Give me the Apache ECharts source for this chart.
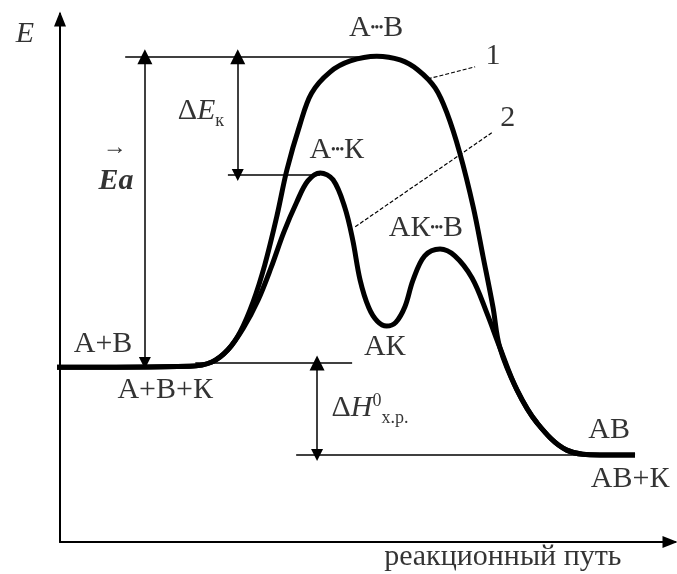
<!DOCTYPE html>
<html lang="ru">
<head>
<meta charset="UTF-8" />
<title>Энергетическая диаграмма реакции</title>
<script src="https://cdn.jsdelivr.net/npm/echarts@6/dist/echarts.min.js"></script>
<style>html,body{margin:0;background:#fff}</style>
</head>
<body>
<div id="main" style="width:677px;height:574px"></div>
<script>
// x - reaction path, y - energy (arbitrary units 0..100)
const pathNoCat = [
  [-0.8, 33.1], [21.1, 33.3], [24.7, 34.1], [27.3, 36.4], [29.3, 39.8],
  [31.4, 45.5], [33.3, 52.5], [35.3, 61.9], [36.9, 70.5], [39.0, 79.0],
  [40.9, 85.0], [43.9, 89.0], [47.2, 91.1], [51.5, 92.0], [55.3, 91.3],
  [58.2, 89.4], [61.0, 86.0], [62.9, 81.3], [65.0, 73.7], [67.2, 63.4],
  [68.8, 54.0], [70.4, 44.5], [71.5, 36.9], [74.3, 28.8], [77.6, 22.5],
  [82.4, 17.4], [87.8, 16.5], [93.5, 16.5]
];
const pathCat = [
  [-0.8, 33.1], [21.1, 33.3], [24.7, 34.1], [27.3, 36.4], [29.8, 40.5],
  [32.2, 45.8], [34.3, 51.9], [36.4, 58.7], [38.5, 64.4], [40.3, 68.4],
  [42.3, 69.9], [44.4, 68.6], [46.3, 63.4], [47.6, 57.2], [48.8, 49.6],
  [50.2, 44.4], [51.6, 41.8], [53.1, 40.9], [54.6, 41.6], [56.1, 44.6],
  [57.4, 49.6], [59.3, 54.2], [61.8, 55.5], [64.2, 54.2], [67.0, 50.0],
  [69.4, 43.4], [71.5, 36.9], [74.3, 28.8], [77.6, 22.5], [82.4, 17.4],
  [87.8, 16.5], [93.5, 16.5]
];

// energy levels
const levelTS = 91.9;     // A...B
const levelCatTS = 69.5;  // A...K
const levelStart = 33.9;  // A+B
const levelEnd = 16.5;    // AB

const guideLines = [
  [[10.6, levelTS], [51.5, levelTS]],
  [[27.3, levelCatTS], [42.3, levelCatTS]],
  [[22.0, levelStart], [47.5, levelStart]],
  [[38.4, levelEnd], [93.5, levelEnd]]
];
const arrows = [
  [[13.8, levelStart], [13.8, levelTS]],
  [[28.9, levelCatTS], [28.9, levelTS]],
  [[41.8, levelEnd], [41.8, levelStart]]
];
const leaders = [
  [[59.8, 87.7], [67.5, 90.0]],
  [[48.0, 59.7], [70.2, 77.5]]
];

const labels = [
  [-5.7, 96.2, '{i|E}'],
  [7.0, 37.5, 'A+B'],
  [17.1, 28.8, 'A+B+К'],
  [89.3, 21.2, 'AB'],
  [92.7, 11.9, 'AB+К'],
  [72.0, -2.8, 'реакционный путь'],
  [51.4, 97.3, 'A{d|•••}B'],
  [45.0, 74.2, 'A{d|•••}К'],
  [59.5, 59.5, 'AК{d|•••}B'],
  [52.8, 36.9, 'AК'],
  [70.4, 92.0, '1'],
  [72.8, 80.3, '2'],
  [22.9, 81.6, 'Δ{i|E}{s|к}'],
  [8.9, 74.6, '{ar|→}'],
  [9.1, 68.4, '{bi|Ea}'],
  [50.4, 25.4, 'Δ{i|H}{sup|0}{s|х.р.}']
];

const serif = '"Liberation Serif", "Times New Roman", serif';

const myChart = echarts.init(document.getElementById('main'));

const axisCommon = {
  type: 'value',
  min: 0,
  max: 100,
  splitLine: { show: false },
  axisTick: { show: false },
  axisLabel: { show: false },
  axisLine: {
    show: true,
    symbol: ['none', 'triangle'],
    symbolSize: [12, 15],
    symbolOffset: [0, -5],
    lineStyle: { color: '#000', width: 2 }
  }
};

const option = {
  animation: false,
  backgroundColor: '#fff',
  grid: { left: 60, right: 2, top: 14, bottom: 32 },
  xAxis: axisCommon,
  yAxis: axisCommon,
  series: [
    {
      name: '1',
      type: 'line',
      data: pathNoCat,
      smooth: 0.35,
      showSymbol: false,
      clip: false,
      lineStyle: { color: '#000', width: 5 }
    },
    {
      name: '2',
      type: 'line',
      data: pathCat,
      smooth: 0.35,
      showSymbol: false,
      clip: false,
      lineStyle: { color: '#000', width: 5 }
    },
    {
      type: 'lines',
      coordinateSystem: 'cartesian2d',
      data: guideLines.map(c => ({ coords: c })),
      symbol: 'none',
      lineStyle: { color: '#000', width: 1.5, opacity: 1 }
    },
    {
      type: 'lines',
      coordinateSystem: 'cartesian2d',
      data: arrows.map(c => ({ coords: c })),
      symbol: ['triangle', 'triangle'],
      symbolSize: [12, 15],
      lineStyle: { color: '#000', width: 1.5, opacity: 1 }
    },
    {
      type: 'lines',
      coordinateSystem: 'cartesian2d',
      data: leaders.map(c => ({ coords: c })),
      symbol: 'none',
      lineStyle: { color: '#000', width: 1.2, type: [4, 2], opacity: 1 }
    },
    {
      type: 'scatter',
      data: labels.map(l => ({ value: [l[0], l[1]], text: l[2] })),
      symbolSize: 0,
      clip: false,
      label: {
        show: true,
        position: 'inside',
        align: 'center',
        verticalAlign: 'middle',
        color: '#000',
        fontFamily: serif,
        fontSize: 30,
        formatter: p => p.data.text,
        rich: {
          i: { fontStyle: 'italic', fontFamily: serif, fontSize: 30 },
          bi: { fontStyle: 'italic', fontWeight: 'bold', fontFamily: serif, fontSize: 30 },
          s: { fontFamily: serif, fontSize: 18, padding: [20, 0, 0, 0] },
          sup: { fontFamily: serif, fontSize: 18, padding: [0, 0, 14, 0] },
          d: { fontFamily: serif, fontSize: 12, fontWeight: 'bold' },
          ar: { fontFamily: serif, fontSize: 24, fontWeight: 'bold' }
        }
      }
    }
  ]
};

myChart.setOption(option);
</script>
</body>
</html>
